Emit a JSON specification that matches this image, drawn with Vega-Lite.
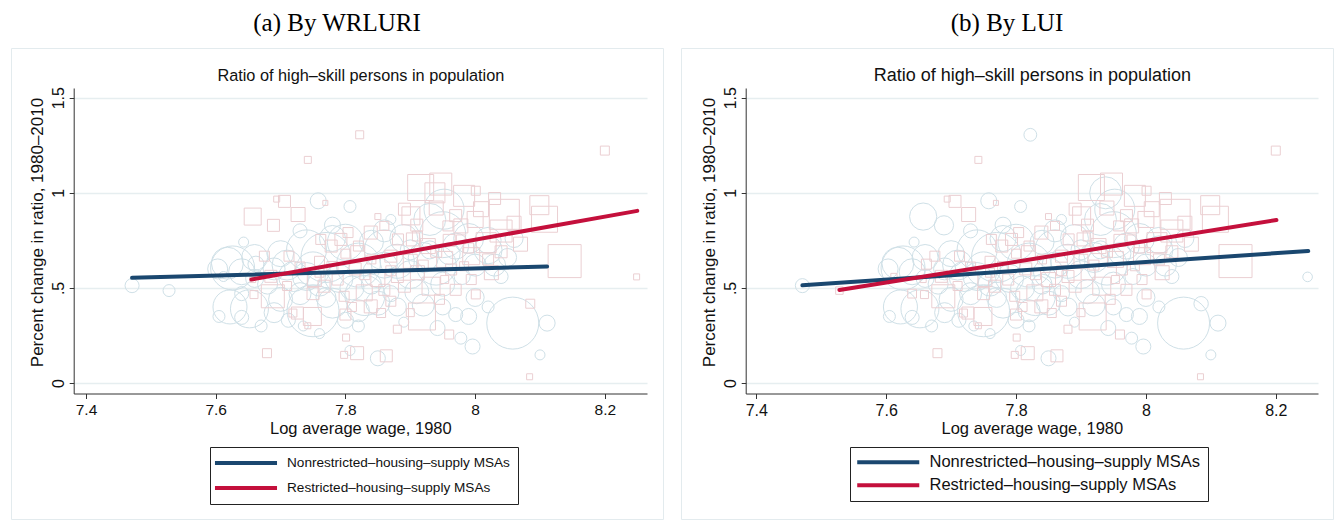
{
  "$schema": "https://vega.github.io/schema/vega-lite/v6.json",
  "background": "white",
  "padding": {"left": 10, "top": 10, "right": 0, "bottom": 0},
  "spacing": 16,
  "config": {
    "font": "Liberation Sans",
    "view": {"stroke": "#e3ebee", "strokeWidth": 1},
    "axis": {"labelFont": "Liberation Sans", "titleFont": "Liberation Sans", "labelColor": "#111", "titleColor": "#111", "titleFontWeight": "normal", "domainColor": "#333", "tickColor": "#333", "gridColor": "#e6eef0", "labelFlush": false},
    "legend": {"labelFont": "Liberation Sans", "labelColor": "#111"}
  },
  "datasets": {
    "msa": [
      {"x":7.471,"y":0.512,"p":77,"a":"N","b":"N"},
      {"x":7.528,"y":0.486,"p":56,"a":"N","b":"R"},
      {"x":7.626,"y":0.605,"p":756,"a":"N","b":"N"},
      {"x":7.618,"y":0.63,"p":400,"a":"N","b":"N"},
      {"x":7.64,"y":0.585,"p":264,"a":"N","b":"N"},
      {"x":7.603,"y":0.6,"p":156,"a":"N","b":"N"},
      {"x":7.662,"y":0.625,"p":100,"a":"N","b":"R"},
      {"x":7.612,"y":0.56,"p":39,"a":"N","b":"R"},
      {"x":7.643,"y":0.741,"p":39,"a":"N","b":"N"},
      {"x":7.622,"y":0.4,"p":452,"a":"N","b":"N"},
      {"x":7.605,"y":0.35,"p":56,"a":"N","b":"N"},
      {"x":7.64,"y":0.345,"p":77,"a":"N","b":"N"},
      {"x":7.652,"y":0.39,"p":564,"a":"N","b":"N"},
      {"x":7.712,"y":0.33,"p":77,"a":"N","b":"N"},
      {"x":7.75,"y":0.38,"p":1056,"a":"N","b":"N"},
      {"x":7.735,"y":0.3,"p":39,"a":"N","b":"N"},
      {"x":7.78,"y":0.42,"p":352,"a":"N","b":"N"},
      {"x":7.8,"y":0.33,"p":100,"a":"N","b":"N"},
      {"x":7.83,"y":0.46,"p":625,"a":"N","b":"N"},
      {"x":7.77,"y":0.66,"p":977,"a":"N","b":"N"},
      {"x":7.82,"y":0.62,"p":756,"a":"N","b":"N"},
      {"x":7.86,"y":0.7,"p":625,"a":"N","b":"N"},
      {"x":7.8,"y":0.74,"p":506,"a":"N","b":"N"},
      {"x":7.74,"y":0.7,"p":625,"a":"N","b":"N"},
      {"x":7.71,"y":0.62,"p":352,"a":"N","b":"N"},
      {"x":7.7,"y":0.68,"p":264,"a":"N","b":"N"},
      {"x":7.85,"y":0.58,"p":352,"a":"N","b":"N"},
      {"x":7.88,"y":0.64,"p":452,"a":"N","b":"N"},
      {"x":7.9,"y":0.57,"p":306,"a":"N","b":"N"},
      {"x":7.94,"y":0.62,"p":625,"a":"N","b":"N"},
      {"x":7.95,"y":0.78,"p":827,"a":"N","b":"N"},
      {"x":7.93,"y":0.86,"p":400,"a":"N","b":"N"},
      {"x":7.952,"y":0.914,"p":625,"a":"N","b":"N"},
      {"x":7.99,"y":0.76,"p":352,"a":"N","b":"N"},
      {"x":8.02,"y":0.7,"p":306,"a":"N","b":"N"},
      {"x":8.03,"y":0.62,"p":189,"a":"N","b":"N"},
      {"x":7.91,"y":0.48,"p":225,"a":"N","b":"N"},
      {"x":7.88,"y":0.4,"p":127,"a":"N","b":"N"},
      {"x":7.95,"y":0.4,"p":100,"a":"N","b":"N"},
      {"x":8.0,"y":0.45,"p":127,"a":"N","b":"N"},
      {"x":7.97,"y":0.36,"p":77,"a":"N","b":"N"},
      {"x":8.02,"y":0.4,"p":56,"a":"N","b":"N"},
      {"x":7.807,"y":0.928,"p":56,"a":"N","b":"N"},
      {"x":7.758,"y":0.958,"p":100,"a":"N","b":"N"},
      {"x":7.942,"y":0.289,"p":88,"a":"N","b":"N"},
      {"x":7.978,"y":0.236,"p":56,"a":"N","b":"N"},
      {"x":7.996,"y":0.192,"p":88,"a":"N","b":"N"},
      {"x":7.85,"y":0.13,"p":88,"a":"N","b":"N"},
      {"x":7.807,"y":0.171,"p":39,"a":"N","b":"N"},
      {"x":8.058,"y":0.315,"p":1056,"a":"N","b":"N"},
      {"x":8.111,"y":0.315,"p":100,"a":"N","b":"N"},
      {"x":8.1,"y":0.148,"p":39,"a":"N","b":"N"},
      {"x":7.68,"y":0.52,"p":156,"a":"N","b":"N"},
      {"x":7.7,"y":0.44,"p":225,"a":"N","b":"N"},
      {"x":7.72,"y":0.56,"p":352,"a":"N","b":"N"},
      {"x":8.02,"y":0.75,"p":264,"a":"N","b":"N"},
      {"x":7.87,"y":0.86,"p":39,"a":"N","b":"N"},
      {"x":7.76,"y":0.52,"p":225,"a":"N","b":"N"},
      {"x":7.84,"y":0.52,"p":156,"a":"N","b":"N"},
      {"x":7.82,"y":0.38,"p":189,"a":"N","b":"N"},
      {"x":7.87,"y":0.47,"p":100,"a":"N","b":"N"},
      {"x":7.9,"y":0.7,"p":156,"a":"N","b":"N"},
      {"x":7.86,"y":0.8,"p":189,"a":"N","b":"N"},
      {"x":7.78,"y":0.83,"p":100,"a":"N","b":"N"},
      {"x":7.73,"y":0.8,"p":77,"a":"N","b":"N"},
      {"x":7.93,"y":0.7,"p":127,"a":"N","b":"N"},
      {"x":7.96,"y":0.68,"p":189,"a":"N","b":"N"},
      {"x":7.98,"y":0.56,"p":100,"a":"N","b":"N"},
      {"x":8.04,"y":0.56,"p":77,"a":"N","b":"N"},
      {"x":7.76,"y":0.26,"p":39,"a":"N","b":"N"},
      {"x":7.89,"y":0.32,"p":39,"a":"N","b":"N"},
      {"x":7.82,"y":0.3,"p":56,"a":"N","b":"N"},
      {"x":7.64,"y":0.47,"p":77,"a":"N","b":"R"},
      {"x":7.67,"y":0.3,"p":56,"a":"N","b":"N"},
      {"x":8.06,"y":0.76,"p":127,"a":"N","b":"N"},
      {"x":7.66,"y":0.66,"p":264,"a":"N","b":"N"},
      {"x":7.69,"y":0.6,"p":189,"a":"N","b":"N"},
      {"x":7.75,"y":0.6,"p":452,"a":"N","b":"N"},
      {"x":7.79,"y":0.55,"p":306,"a":"N","b":"N"},
      {"x":7.81,"y":0.5,"p":225,"a":"N","b":"N"},
      {"x":7.86,"y":0.62,"p":264,"a":"N","b":"N"},
      {"x":7.89,"y":0.76,"p":306,"a":"N","b":"N"},
      {"x":7.92,"y":0.66,"p":352,"a":"N","b":"N"},
      {"x":7.97,"y":0.72,"p":264,"a":"N","b":"N"},
      {"x":8.0,"y":0.62,"p":189,"a":"N","b":"N"},
      {"x":7.84,"y":0.74,"p":225,"a":"N","b":"N"},
      {"x":7.78,"y":0.76,"p":264,"a":"N","b":"N"},
      {"x":7.73,"y":0.47,"p":189,"a":"N","b":"N"},
      {"x":7.77,"y":0.45,"p":156,"a":"N","b":"N"},
      {"x":7.85,"y":0.42,"p":225,"a":"N","b":"N"},
      {"x":7.92,"y":0.41,"p":189,"a":"N","b":"N"},
      {"x":7.99,"y":0.35,"p":100,"a":"N","b":"N"},
      {"x":7.66,"y":0.55,"p":127,"a":"N","b":"N"},
      {"x":7.74,"y":0.56,"p":306,"a":"N","b":"N"},
      {"x":7.95,"y":0.52,"p":225,"a":"N","b":"N"},
      {"x":8.05,"y":0.66,"p":127,"a":"N","b":"N"},
      {"x":7.69,"y":0.37,"p":156,"a":"N","b":"N"},
      {"x":7.822,"y":1.305,"p":64,"a":"R","b":"N"},
      {"x":7.742,"y":1.173,"p":49,"a":"R","b":"R"},
      {"x":8.2,"y":1.222,"p":81,"a":"R","b":"R"},
      {"x":8.249,"y":0.558,"p":36,"a":"R","b":"N"},
      {"x":8.084,"y":0.033,"p":36,"a":"R","b":"R"},
      {"x":7.679,"y":0.157,"p":81,"a":"R","b":"R"},
      {"x":7.818,"y":0.157,"p":169,"a":"R","b":"R"},
      {"x":7.798,"y":0.148,"p":49,"a":"R","b":"R"},
      {"x":7.863,"y":0.143,"p":144,"a":"R","b":"R"},
      {"x":7.801,"y":0.239,"p":49,"a":"R","b":"R"},
      {"x":7.88,"y":0.283,"p":64,"a":"R","b":"R"},
      {"x":7.96,"y":0.255,"p":81,"a":"R","b":"R"},
      {"x":8.001,"y":0.466,"p":81,"a":"R","b":"R"},
      {"x":8.085,"y":0.417,"p":81,"a":"R","b":"N"},
      {"x":7.918,"y":0.35,"p":729,"a":"R","b":"R"},
      {"x":8.138,"y":0.641,"p":1089,"a":"R","b":"R"},
      {"x":7.657,"y":0.875,"p":289,"a":"R","b":"N"},
      {"x":7.689,"y":0.829,"p":144,"a":"R","b":"N"},
      {"x":7.727,"y":0.886,"p":196,"a":"R","b":"R"},
      {"x":7.706,"y":0.955,"p":144,"a":"R","b":"R"},
      {"x":7.694,"y":0.967,"p":36,"a":"R","b":"R"},
      {"x":7.769,"y":0.947,"p":25,"a":"R","b":"R"},
      {"x":7.916,"y":1.028,"p":676,"a":"R","b":"R"},
      {"x":7.947,"y":1.046,"p":484,"a":"R","b":"R"},
      {"x":7.938,"y":1.0,"p":400,"a":"R","b":"N"},
      {"x":7.983,"y":0.984,"p":441,"a":"R","b":"R"},
      {"x":8.001,"y":1.011,"p":81,"a":"R","b":"R"},
      {"x":8.009,"y":0.914,"p":225,"a":"R","b":"R"},
      {"x":8.045,"y":0.887,"p":900,"a":"R","b":"R"},
      {"x":8.099,"y":0.935,"p":361,"a":"R","b":"R"},
      {"x":8.107,"y":0.861,"p":676,"a":"R","b":"R"},
      {"x":8.04,"y":0.799,"p":484,"a":"R","b":"R"},
      {"x":7.978,"y":0.826,"p":196,"a":"R","b":"R"},
      {"x":8.017,"y":0.738,"p":400,"a":"R","b":"R"},
      {"x":8.025,"y":0.58,"p":196,"a":"R","b":"R"},
      {"x":7.994,"y":0.667,"p":289,"a":"R","b":"R"},
      {"x":7.953,"y":0.65,"p":256,"a":"R","b":"R"},
      {"x":7.901,"y":0.879,"p":324,"a":"R","b":"R"},
      {"x":7.891,"y":0.914,"p":144,"a":"R","b":"R"},
      {"x":7.927,"y":0.72,"p":225,"a":"R","b":"R"},
      {"x":7.911,"y":0.58,"p":196,"a":"R","b":"R"},
      {"x":7.932,"y":0.509,"p":324,"a":"R","b":"R"},
      {"x":7.891,"y":0.509,"p":144,"a":"R","b":"R"},
      {"x":7.85,"y":0.544,"p":196,"a":"R","b":"R"},
      {"x":7.829,"y":0.474,"p":256,"a":"R","b":"R"},
      {"x":7.839,"y":0.403,"p":169,"a":"R","b":"R"},
      {"x":7.855,"y":0.368,"p":81,"a":"R","b":"R"},
      {"x":7.819,"y":0.685,"p":196,"a":"R","b":"R"},
      {"x":7.839,"y":0.791,"p":169,"a":"R","b":"R"},
      {"x":7.804,"y":0.791,"p":100,"a":"R","b":"R"},
      {"x":7.793,"y":0.755,"p":144,"a":"R","b":"R"},
      {"x":7.762,"y":0.755,"p":100,"a":"R","b":"R"},
      {"x":7.778,"y":0.72,"p":144,"a":"R","b":"R"},
      {"x":7.752,"y":0.544,"p":196,"a":"R","b":"R"},
      {"x":7.767,"y":0.509,"p":144,"a":"R","b":"R"},
      {"x":7.788,"y":0.544,"p":121,"a":"R","b":"R"},
      {"x":7.798,"y":0.456,"p":100,"a":"R","b":"R"},
      {"x":7.87,"y":0.667,"p":144,"a":"R","b":"R"},
      {"x":7.881,"y":0.755,"p":121,"a":"R","b":"R"},
      {"x":7.86,"y":0.826,"p":81,"a":"R","b":"R"},
      {"x":7.85,"y":0.875,"p":36,"a":"R","b":"R"},
      {"x":7.904,"y":0.755,"p":169,"a":"R","b":"R"},
      {"x":7.911,"y":0.773,"p":100,"a":"R","b":"R"},
      {"x":7.958,"y":0.826,"p":100,"a":"R","b":"R"},
      {"x":7.978,"y":0.755,"p":81,"a":"R","b":"R"},
      {"x":7.945,"y":0.44,"p":100,"a":"R","b":"R"},
      {"x":7.963,"y":0.597,"p":121,"a":"R","b":"R"},
      {"x":7.983,"y":0.614,"p":81,"a":"R","b":"R"},
      {"x":7.994,"y":0.544,"p":100,"a":"R","b":"R"},
      {"x":7.953,"y":0.544,"p":64,"a":"R","b":"R"},
      {"x":7.685,"y":0.561,"p":144,"a":"R","b":"R"},
      {"x":7.713,"y":0.667,"p":100,"a":"R","b":"R"},
      {"x":7.719,"y":0.368,"p":64,"a":"R","b":"R"},
      {"x":7.657,"y":0.544,"p":36,"a":"R","b":"R"},
      {"x":7.659,"y":0.465,"p":64,"a":"R","b":"R"},
      {"x":7.675,"y":0.667,"p":100,"a":"R","b":"R"},
      {"x":7.688,"y":0.456,"p":529,"a":"R","b":"R"},
      {"x":7.726,"y":0.368,"p":144,"a":"R","b":"R"},
      {"x":7.749,"y":0.35,"p":324,"a":"R","b":"R"},
      {"x":7.742,"y":0.301,"p":36,"a":"R","b":"R"},
      {"x":8.04,"y":0.69,"p":144,"a":"R","b":"R"},
      {"x":8.06,"y":0.84,"p":196,"a":"R","b":"R"},
      {"x":7.87,"y":0.59,"p":100,"a":"R","b":"R"},
      {"x":7.815,"y":0.6,"p":144,"a":"R","b":"R"},
      {"x":7.76,"y":0.64,"p":100,"a":"R","b":"R"},
      {"x":7.9,"y":0.64,"p":196,"a":"R","b":"R"},
      {"x":7.97,"y":0.88,"p":144,"a":"R","b":"R"},
      {"x":8.0,"y":0.86,"p":256,"a":"R","b":"R"},
      {"x":7.78,"y":0.61,"p":121,"a":"R","b":"R"},
      {"x":7.8,"y":0.68,"p":81,"a":"R","b":"R"},
      {"x":7.83,"y":0.57,"p":100,"a":"R","b":"R"},
      {"x":7.86,"y":0.49,"p":121,"a":"R","b":"R"},
      {"x":7.88,"y":0.56,"p":144,"a":"R","b":"R"},
      {"x":7.92,"y":0.62,"p":100,"a":"R","b":"R"},
      {"x":7.94,"y":0.69,"p":121,"a":"R","b":"R"},
      {"x":7.96,"y":0.75,"p":144,"a":"R","b":"R"},
      {"x":7.99,"y":0.71,"p":100,"a":"R","b":"R"},
      {"x":8.02,"y":0.65,"p":121,"a":"R","b":"R"},
      {"x":7.84,"y":0.65,"p":81,"a":"R","b":"R"},
      {"x":7.82,"y":0.72,"p":100,"a":"R","b":"R"},
      {"x":7.76,"y":0.58,"p":81,"a":"R","b":"R"},
      {"x":7.73,"y":0.61,"p":100,"a":"R","b":"R"},
      {"x":7.91,"y":0.83,"p":144,"a":"R","b":"R"},
      {"x":7.94,"y":0.92,"p":196,"a":"R","b":"R"},
      {"x":8.03,"y":0.97,"p":144,"a":"R","b":"R"},
      {"x":7.87,"y":0.43,"p":100,"a":"R","b":"R"},
      {"x":7.81,"y":0.4,"p":81,"a":"R","b":"R"},
      {"x":7.97,"y":0.49,"p":121,"a":"R","b":"R"},
      {"x":8.07,"y":0.73,"p":196,"a":"R","b":"R"},
      {"x":7.75,"y":0.47,"p":144,"a":"R","b":"R"},
      {"x":7.71,"y":0.51,"p":81,"a":"R","b":"R"},
      {"x":7.8,"y":0.36,"p":121,"a":"R","b":"R"},
      {"x":7.9,"y":0.37,"p":64,"a":"R","b":"R"}
    ],
    "fit": [
      {"panel":"a","g":"Nonrestricted–housing–supply MSAs","x":7.471,"y":0.553},
      {"panel":"a","g":"Nonrestricted–housing–supply MSAs","x":8.111,"y":0.613},
      {"panel":"a","g":"Restricted–housing–supply MSAs","x":7.655,"y":0.544},
      {"panel":"a","g":"Restricted–housing–supply MSAs","x":8.25,"y":0.905},
      {"panel":"b","g":"Nonrestricted–housing–supply MSAs","x":7.471,"y":0.514},
      {"panel":"b","g":"Nonrestricted–housing–supply MSAs","x":8.25,"y":0.694},
      {"panel":"b","g":"Restricted–housing–supply MSAs","x":7.528,"y":0.489},
      {"panel":"b","g":"Restricted–housing–supply MSAs","x":8.201,"y":0.857}
    ]
  },
  "hconcat": [
    {
      "width": 652,
      "height": 471,
      "title": {"text": "(a) By WRLURI", "font": "Liberation Serif", "fontSize": 25, "fontWeight": "normal", "color": "#000", "anchor": "middle", "baseline": "alphabetic", "offset": -8},
      "resolve": {"scale": {"size": "independent"}},
      "layer": [
        {
          "data": {"name": "msa"},
          "transform": [{"filter": "datum.a == 'N'"}],
          "mark": {"type": "point", "shape": "circle", "filled": false, "stroke": "#cfe0e7", "strokeWidth": 1, "opacity": 1},
          "encoding": {
            "x": {"field": "x", "type": "quantitative", "scale": {"domain": [7.381, 8.265], "range": [62.7, 636], "nice": false, "zero": false},
                  "axis": {"orient": "bottom", "offset": -125.5, "values": [7.4, 7.6, 7.8, 8, 8.2], "format": "~g", "grid": false, "title": "Log average wage, 1980", "tickSize": 5, "labelPadding": 4, "labelFontSize": 15.5, "titleFontSize": 16.5, "titlePadding": 2}},
            "y": {"field": "y", "type": "quantitative", "scale": {"domain": [-0.055, 1.551], "range": [345.5, 40], "nice": false, "zero": false},
                  "axis": {"orient": "left", "offset": -62.7, "values": [0, 0.5, 1, 1.5], "format": "~g", "labelExpr": "datum.value == 0.5 ? '.5' : datum.label", "labelAngle": -90, "labelAlign": "center", "labelBaseline": "bottom", "tickSize": 4.5, "labelPadding": 3, "labelFontSize": 16, "grid": true, "gridColor": "#e6eef0", "gridWidth": 1.3, "title": "Percent change in ratio, 1980–2010", "titleFontSize": 17, "titlePadding": 4, "titleY": 184}},
            "size": {"field": "p", "type": "quantitative", "scale": {"domain": [0, 1100], "range": [0, 2816]}, "legend": null}
          }
        },
        {
          "data": {"name": "msa"},
          "transform": [{"filter": "datum.a == 'R'"}],
          "mark": {"type": "point", "shape": "square", "filled": false, "stroke": "#ebcfd2", "strokeWidth": 1, "opacity": 1},
          "encoding": {
            "x": {"field": "x", "type": "quantitative", "axis": null},
            "y": {"field": "y", "type": "quantitative"},
            "size": {"field": "p", "type": "quantitative", "scale": {"domain": [0, 1100], "range": [0, 1100]}, "legend": null}
          }
        },
        {
          "data": {"name": "fit"},
          "transform": [{"filter": "datum.panel == 'a'"}],
          "mark": {"type": "line", "strokeWidth": 4, "strokeCap": "round"},
          "encoding": {
            "x": {"field": "x", "type": "quantitative",
                  "axis": {"orient": "top", "offset": -32, "domain": false, "ticks": false, "labels": false, "grid": false, "title": "Ratio of high–skill persons in population", "titleFontSize": 16.3, "titlePadding": 0, "titleBaseline": "alphabetic"}},
            "y": {"field": "y", "type": "quantitative"},
            "stroke": {"field": "g", "type": "nominal",
                       "scale": {"domain": ["Nonrestricted–housing–supply MSAs", "Restricted–housing–supply MSAs"], "range": ["#1a476f", "#c4103c"]},
                       "legend": {"orient": "none", "legendX": 199, "legendY": 399, "title": null, "symbolType": "M-5.17,0H5.17", "symbolStrokeWidth": 4, "symbolSize": 144, "symbolOffset": 20, "labelFontSize": 13.6, "labelLimit": 400, "labelOffset": 33, "strokeColor": "#222", "fillColor": "white", "padding": 8, "rowPadding": 9}}
          }
        }
      ]
    },
    {
      "width": 652,
      "height": 471,
      "title": {"text": "(b) By LUI", "font": "Liberation Serif", "fontSize": 25, "fontWeight": "normal", "color": "#000", "anchor": "middle", "baseline": "alphabetic", "offset": -8},
      "resolve": {"scale": {"size": "independent"}},
      "layer": [
        {
          "data": {"name": "msa"},
          "transform": [{"filter": "datum.b == 'N'"}],
          "mark": {"type": "point", "shape": "circle", "filled": false, "stroke": "#cfe0e7", "strokeWidth": 1, "opacity": 1},
          "encoding": {
            "x": {"field": "x", "type": "quantitative", "scale": {"domain": [7.3837, 8.265], "range": [64.7, 637], "nice": false, "zero": false},
                  "axis": {"orient": "bottom", "offset": -125.5, "values": [7.4, 7.6, 7.8, 8, 8.2], "format": "~g", "grid": false, "title": "Log average wage, 1980", "tickSize": 5, "labelPadding": 4, "labelFontSize": 16, "titleFontSize": 16.5, "titlePadding": 2}},
            "y": {"field": "y", "type": "quantitative", "scale": {"domain": [-0.055, 1.551], "range": [345.5, 40], "nice": false, "zero": false},
                  "axis": {"orient": "left", "offset": -64.7, "values": [0, 0.5, 1, 1.5], "format": "~g", "labelExpr": "datum.value == 0.5 ? '.5' : datum.label", "labelAngle": -90, "labelAlign": "center", "labelBaseline": "bottom", "tickSize": 4.5, "labelPadding": 3, "labelFontSize": 16, "grid": true, "gridColor": "#e6eef0", "gridWidth": 1.3, "title": "Percent change in ratio, 1980–2010", "titleFontSize": 17, "titlePadding": 4, "titleY": 184}},
            "size": {"field": "p", "type": "quantitative", "scale": {"domain": [0, 1100], "range": [0, 2816]}, "legend": null}
          }
        },
        {
          "data": {"name": "msa"},
          "transform": [{"filter": "datum.b == 'R'"}],
          "mark": {"type": "point", "shape": "square", "filled": false, "stroke": "#ebcfd2", "strokeWidth": 1, "opacity": 1},
          "encoding": {
            "x": {"field": "x", "type": "quantitative", "axis": null},
            "y": {"field": "y", "type": "quantitative"},
            "size": {"field": "p", "type": "quantitative", "scale": {"domain": [0, 1100], "range": [0, 1100]}, "legend": null}
          }
        },
        {
          "data": {"name": "fit"},
          "transform": [{"filter": "datum.panel == 'b'"}],
          "mark": {"type": "line", "strokeWidth": 4, "strokeCap": "round"},
          "encoding": {
            "x": {"field": "x", "type": "quantitative",
                  "axis": {"orient": "top", "offset": -32, "domain": false, "ticks": false, "labels": false, "grid": false, "title": "Ratio of high–skill persons in population", "titleFontSize": 18, "titlePadding": 0, "titleBaseline": "alphabetic"}},
            "y": {"field": "y", "type": "quantitative"},
            "stroke": {"field": "g", "type": "nominal",
                       "scale": {"domain": ["Nonrestricted–housing–supply MSAs", "Restricted–housing–supply MSAs"], "range": ["#1a476f", "#c4103c"]},
                       "legend": {"orient": "none", "legendX": 169, "legendY": 399, "title": null, "symbolType": "M-5.17,0H5.17", "symbolStrokeWidth": 4, "symbolSize": 144, "symbolOffset": 23, "labelFontSize": 16.5, "labelLimit": 400, "labelOffset": 33, "strokeColor": "#222", "fillColor": "white", "padding": 7, "rowPadding": 6}}
          }
        }
      ]
    }
  ],
  "resolve": {"scale": {"x": "independent", "y": "independent", "size": "independent", "stroke": "independent"}, "legend": {"stroke": "independent"}}
}
